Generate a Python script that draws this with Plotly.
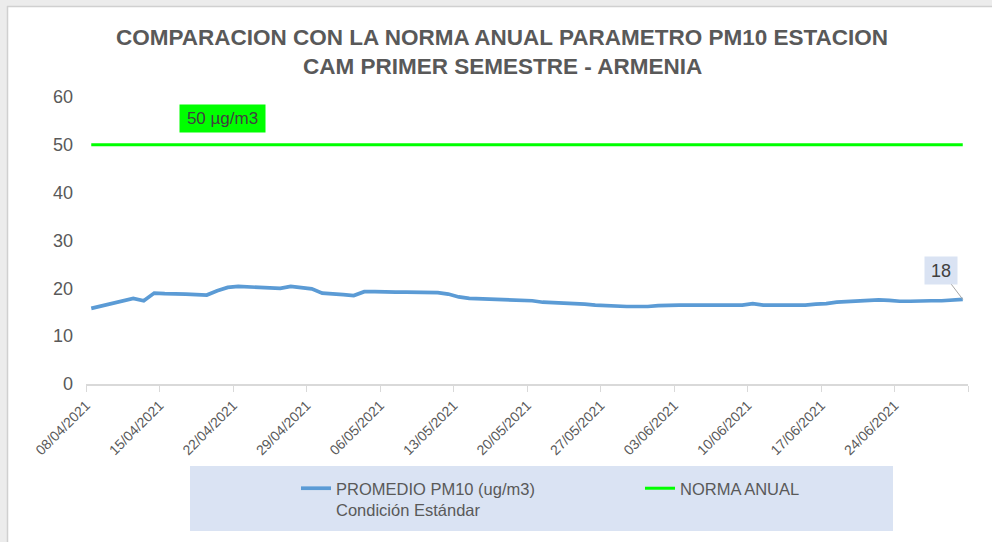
import pandas as pd
import plotly.graph_objects as go

# ---- data ----
start_date = "2021-04-08"
pm10 = [15.8, 16.3, 16.8, 17.3, 17.9, 17.4, 19.0, 18.9, 18.9, 18.8,
        18.7, 18.6, 19.5, 20.2, 20.4, 20.3, 20.2, 20.1, 20.0, 20.4,
        20.2, 19.9, 19.0, 18.9, 18.7, 18.5, 19.3, 19.3, 19.2, 19.2,
        19.2, 19.2, 19.1, 19.1, 18.8, 18.2, 17.9, 17.8, 17.7, 17.6,
        17.5, 17.4, 17.4, 17.1, 17.0, 17.0, 16.9, 16.7, 16.5, 16.4,
        16.2, 16.2, 16.2, 16.2, 16.4, 16.5, 16.5, 16.5, 16.5, 16.5,
        16.5, 16.5, 16.5, 16.8, 16.5, 16.5, 16.5, 16.5, 16.5, 16.7,
        16.8, 17.1, 17.2, 17.3, 17.5, 17.6, 17.5, 17.3, 17.3, 17.4,
        17.4, 17.4, 17.5, 17.7]
norma_anual = 50
tick_labels = ["08/04/2021", "15/04/2021", "22/04/2021", "29/04/2021",
               "06/05/2021", "13/05/2021", "20/05/2021", "27/05/2021",
               "03/06/2021", "10/06/2021", "17/06/2021", "24/06/2021"]
y_ticks = [0, 10, 20, 30, 40, 50, 60]

series_name = "PROMEDIO PM10 (ug/m3)<br>Condición Estándar"
norma_name = "NORMA ANUAL"
title_lines = ["COMPARACION CON LA NORMA ANUAL PARAMETRO PM10 ESTACION",
               "CAM PRIMER SEMESTRE - ARMENIA"]
norma_label = "50 µg/m3"

# ---- build ----
dates = pd.date_range(start_date, periods=len(pm10), freq="D") + pd.Timedelta(hours=12)
tick_vals = [pd.Timestamp(pd.to_datetime(t, format="%d/%m/%Y")) for t in tick_labels]
x_end = pd.Timestamp(start_date) + pd.Timedelta(days=len(pm10))

FONT = "Liberation Sans, Arial, sans-serif"
GREY = "#595959"

fig = go.Figure()
fig.add_trace(go.Scatter(x=dates, y=pm10, mode="lines", name=series_name,
                         line=dict(color="#5b9bd5", width=3.7)))
fig.add_trace(go.Scatter(x=dates, y=[norma_anual] * len(dates), mode="lines",
                         name=norma_name, line=dict(color="#00ff00", width=3)))

W, H = 992, 542
L, R, T, B = 86, 24, 97, 158
pw, ph = W - L - R, H - T - B


def px(xpix):
    return (xpix - L) / pw


def py(ypix):
    return (H - B - ypix) / ph


annotations = [
    dict(text=title_lines[0], x=px(502), y=py(38), xref="paper", yref="paper",
         showarrow=False, xanchor="center", yanchor="middle",
         font=dict(family=FONT, size=22.5, color=GREY, weight="bold")),
    dict(text=title_lines[1], x=px(502), y=py(66), xref="paper", yref="paper",
         showarrow=False, xanchor="center", yanchor="middle",
         font=dict(family=FONT, size=22.5, color=GREY, weight="bold")),
    dict(text=norma_label, x=px(222.5), y=py(118.5), xref="paper", yref="paper",
         showarrow=False, xanchor="center", yanchor="middle",
         bgcolor="#00ff00", width=85, height=27, borderpad=0,
         font=dict(family=FONT, size=17, color="#404040")),
    dict(text=f"{round(pm10[-1])}", x=dates[-1], y=pm10[-1], xref="x", yref="y",
         showarrow=True, arrowhead=0, arrowwidth=1, arrowcolor="#a6a6a6",
         ax=-22, ay=-29, bgcolor="#dae3f3", width=32, height=27, borderpad=0,
         font=dict(family=FONT, size=18, color="#404040")),
]

shapes = [
    # legend background
    dict(type="rect", xref="paper", yref="paper", x0=px(190), x1=px(893),
         y0=py(531), y1=py(466), fillcolor="#dae3f3", line=dict(width=0), layer="below"),
    # frame strips
    dict(type="rect", xref="paper", yref="paper", x0=px(0), x1=px(W),
         y0=py(6), y1=py(0), fillcolor="#ececec", line=dict(width=0)),
    dict(type="line", xref="paper", yref="paper", x0=px(7), x1=px(W),
         y0=py(6.5), y1=py(6.5), line=dict(color="#d0d0d0", width=1.5)),
    dict(type="rect", xref="paper", yref="paper", x0=px(0), x1=px(7),
         y0=py(H), y1=py(0), fillcolor="#ececec", line=dict(width=0)),
    dict(type="line", xref="paper", yref="paper", x0=px(7.5), x1=px(7.5),
         y0=py(H), y1=py(6), line=dict(color="#d0d0d0", width=1.5)),
]

fig.update_layout(
    width=W, height=H,
    margin=dict(l=L, r=R, t=T, b=B, autoexpand=False),
    paper_bgcolor="white", plot_bgcolor="white",
    font=dict(family=FONT, size=16.5, color=GREY),
    showlegend=True,
    legend=dict(orientation="h", x=px(296), y=py(471), xanchor="left", yanchor="top",
                bgcolor="rgba(0,0,0,0)", entrywidth=299, entrywidthmode="pixels",
                itemwidth=30, valign="top", traceorder="normal",
                font=dict(family=FONT, size=16.5, color=GREY)),
    annotations=annotations,
    shapes=shapes,
    xaxis=dict(type="date", range=[pd.Timestamp(start_date), x_end],
               tickvals=tick_vals, ticktext=tick_labels, tickangle=-45,
               ticks="outside", ticklen=6, tickcolor="#d9d9d9",
               minor=dict(dtick=7 * 86400000, tick0=start_date, ticks="outside",
                          ticklen=6, tickcolor="#d9d9d9"),
               showline=True, linecolor="#d9d9d9", linewidth=1.5,
               showgrid=False, zeroline=False,
               tickfont=dict(family=FONT, size=14, color=GREY)),
    yaxis=dict(range=[0, 60], tickvals=y_ticks, showgrid=False, zeroline=False,
               showline=False, ticks="", ticklabelstandoff=12,
               tickfont=dict(family=FONT, size=18, color=GREY)),
)

fig.write_html("out.html", config={"displayModeBar": False},
               post_script="document.body.style.margin='0';")
